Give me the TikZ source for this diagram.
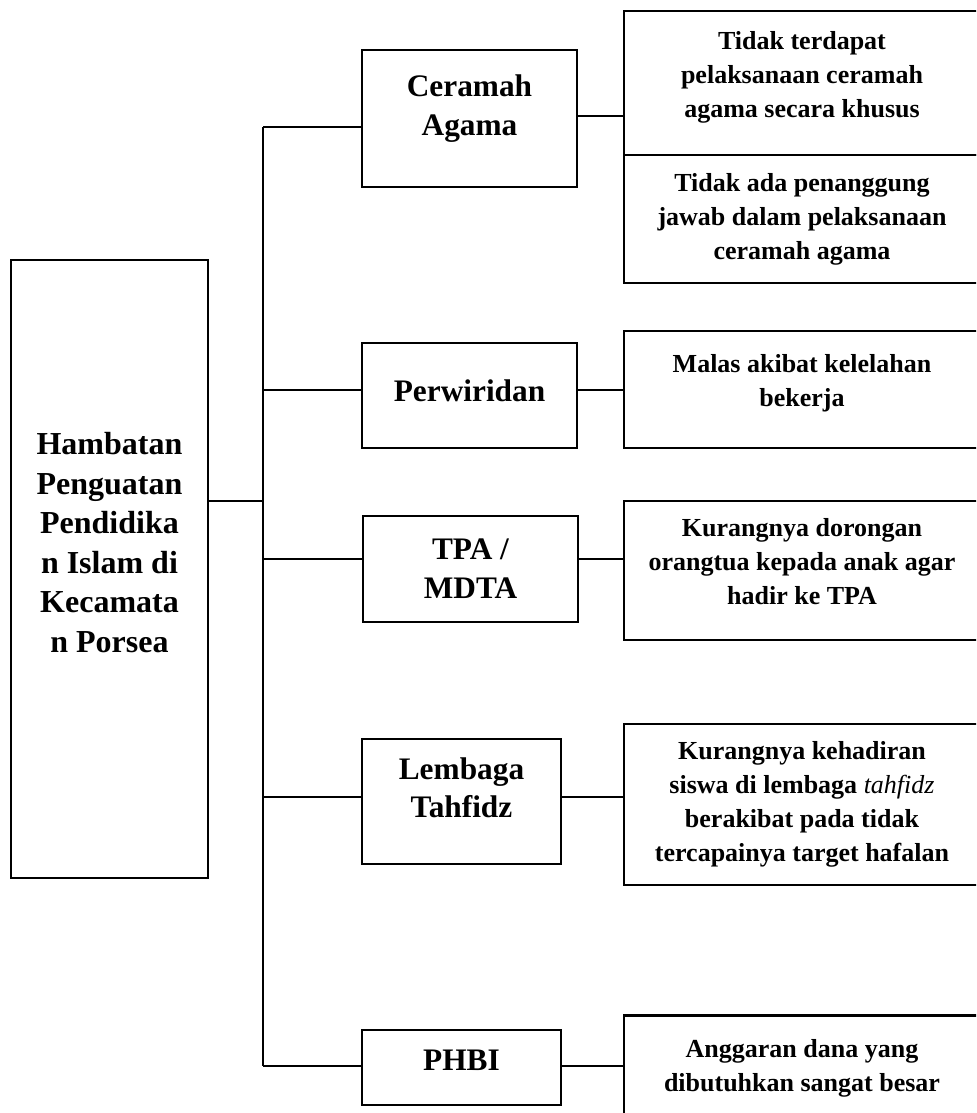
\documentclass[tikz,border=0pt]{standalone}
\usepackage{fontspec}
\setmainfont{Liberation Serif}

\begin{document}
\begin{tikzpicture}[x=0.75pt, y=-0.75pt,
    kotak/.style={draw, line width=1.7pt, align=center, inner sep=0pt},
    utama/.style={kotak, font=\bfseries\fontsize{24}{29.7}\selectfont},
    cabang/.style={kotak, font=\bfseries\fontsize{23.5}{29}\selectfont},
    sebab/.style={kotak, minimum width=267pt, font=\bfseries\fontsize{19.5}{25.5}\selectfont},
    garis/.style={line width=1pt}]
    \useasboundingbox (0,0) rectangle (976,1113);
    \clip (0,0) rectangle (976,1113);

    % kotak utama
    \node[utama, minimum width=147.75pt, minimum height=463.5pt, text depth=40pt] (hambatan) at (109.5,569)
        {Hambatan\\Penguatan\\Pendidika\\n Islam di\\Kecamata\\n Porsea};

    % kegiatan
    \node[cabang, minimum width=161.25pt, minimum height=102.75pt, text depth=20pt] (ceramah) at (469.5,118.5) {Ceramah\\Agama};
    \node[cabang, minimum width=161.25pt, minimum height=78.75pt, text depth=7.5pt] (perwiridan) at (469.5,395.5) {Perwiridan};
    \node[cabang, minimum width=161.25pt, minimum height=79.5pt] (tpa) at (470.5,569) {TPA /\\MDTA};
    \node[cabang, minimum width=149.25pt, minimum height=93.75pt, text depth=21pt] (lembaga) at (461.5,801.5) {Lembaga\\Tahfidz};
    \node[cabang, minimum width=149.25pt, minimum height=56.25pt, text depth=10.5pt] (phbi) at (461.5,1067.5) {PHBI};

    % hambatan tiap kegiatan
    \node[sebab, minimum height=108pt, text depth=13.5pt] (tidakterdapat) at (802,83)
        {Tidak terdapat\\pelaksanaan ceramah\\agama secara khusus};
    \node[sebab, minimum height=96pt] (tidakada) at (802,219)
        {Tidak ada penanggung\\jawab dalam pelaksanaan\\ceramah agama};
    \node[sebab, minimum height=87.75pt, text depth=13.5pt] (malas) at (802,389.5)
        {Malas akibat kelelahan\\bekerja};
    \node[sebab, minimum height=104.25pt, text depth=13.5pt] (dorongan) at (802,570.5)
        {Kurangnya dorongan\\orangtua kepada anak agar\\hadir ke TPA};
    \node[sebab, minimum height=120.75pt] (kehadiran) at (802,804.5)
        {Kurangnya kehadiran\\siswa di lembaga {\mdseries\itshape tahfidz}\\berakibat pada tidak\\tercapainya target hafalan};
    \node[sebab, minimum height=78.75pt] (anggaran) at (802,1068)
        {Anggaran dana yang\\dibutuhkan sangat besar};

    % garis penghubung
    \coordinate (atas) at (263,127);
    \coordinate (bawah) at (263,1066);
    \draw[garis] (atas) -- (bawah);
    \draw[garis] (hambatan.east |- 0,501) -- (atas |- 0,501);
    \draw[garis] (atas) -- (ceramah.west |- atas);
    \draw[garis] (atas |- 0,390) -- (perwiridan.west |- 0,390);
    \draw[garis] (atas |- 0,559) -- (tpa.west |- 0,559);
    \draw[garis] (atas |- 0,797) -- (lembaga.west |- 0,797);
    \draw[garis] (bawah) -- (phbi.west |- bawah);

    \draw[garis] (ceramah.east |- 0,116) -- (tidakterdapat.west |- 0,116);
    \draw[garis] (perwiridan.east |- 0,390) -- (malas.west |- 0,390);
    \draw[garis] (tpa.east |- 0,559) -- (dorongan.west |- 0,559);
    \draw[garis] (lembaga.east |- 0,797) -- (kehadiran.west |- 0,797);
    \draw[garis] (phbi.east |- bawah) -- (anggaran.west |- bawah);
\end{tikzpicture}
\end{document}
